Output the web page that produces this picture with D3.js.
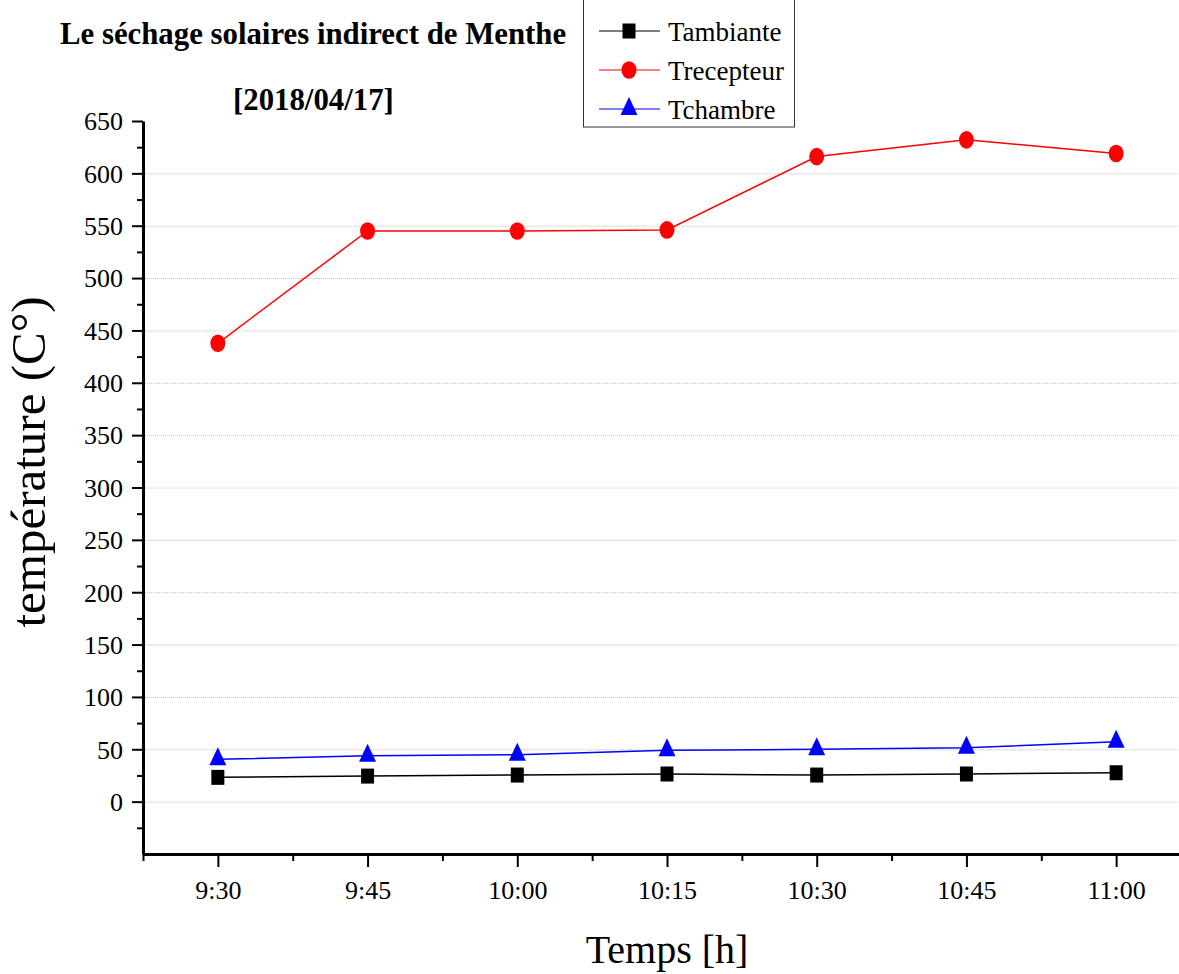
<!DOCTYPE html>
<html>
<head>
<meta charset="utf-8">
<script src="https://cdn.jsdelivr.net/npm/d3@7"></script>
<style>
  body { margin: 0; background: #fff; }
  svg text { font-family: "Liberation Serif", "Times New Roman", serif; fill: #000; }
</style>
</head>
<body>
<div id="chart"></div>
<script>

// values
var times = ["9:30", "9:45", "10:00", "10:15", "10:30", "10:45", "11:00"];
var tambiante = [23.2, 24.4, 25.4, 26.4, 25.4, 26.4, 27.6];
var trecepteur = [437.7, 545, 545, 546, 616, 632, 619];
var tchambre = [40.4, 43.8, 44.8, 49, 50, 51.5, 57.2];
var yTicks = [0, 50, 100, 150, 200, 250, 300, 350, 400, 450, 500, 550, 600, 650];

var series = [
    {name: "Tambiante", values: tambiante, color: "#000000", marker: "square"},
    {name: "Trecepteur", values: trecepteur, color: "#ff0000", marker: "circle"},
    {name: "Tchambre", values: tchambre, color: "#0000ff", marker: "triangle"}
];

var fullWidth = 1179, fullHeight = 974;

var svg = d3.select("#chart").append("svg")
        .attr("width", fullWidth)
        .attr("height", fullHeight);

// x uses the index of each time, half a step of padding on both ends
var x = d3.scaleLinear()
        .domain([-0.5, times.length - 0.5])
        .range([143, 1191]);

var y = d3.scaleLinear()
        .domain([-50, 650])
        .range([854, 121]);

// dotted grid
svg.append("g")
        .attr("class", "grid")
        .selectAll("line")
        .data(yTicks.filter(function (d) { return d < 650; }))
        .enter().append("line")
        .attr("x1", 145)
        .attr("x2", fullWidth)
        .attr("y1", function (d) { return y(d) + 0.5; })
        .attr("y2", function (d) { return y(d) + 0.5; })
        .attr("stroke", "#c4c4c4")
        .attr("stroke-width", 1)
        .attr("stroke-dasharray", "1,1");

// minor ticks first so the major ones sit on top
var yMinor = d3.range(-25, 650, 50);
var xMinor = d3.range(-0.5, times.length, 1);

var yAxisMinor = d3.axisLeft(y).tickValues(yMinor).tickSize(6).tickFormat("");
var xAxisMinor = d3.axisBottom(x).tickValues(xMinor).tickSize(7).tickFormat("");

var yAxis = d3.axisLeft(y)
        .tickValues(yTicks)
        .tickSize(11)
        .tickPadding(9)
        .tickSizeOuter(0);

var xAxis = d3.axisBottom(x)
        .tickValues(d3.range(times.length))
        .tickSize(13)
        .tickPadding(14)
        .tickSizeOuter(0)
        .tickFormat(function (i) { return times[i]; });

svg.append("g")
        .attr("class", "y minor")
        .attr("transform", "translate(143,0)")
        .call(yAxisMinor);

svg.append("g")
        .attr("class", "x minor")
        .attr("transform", "translate(0,854)")
        .call(xAxisMinor);

svg.append("g")
        .attr("class", "y axis")
        .attr("transform", "translate(143,0)")
        .call(yAxis);

svg.append("g")
        .attr("class", "x axis")
        .attr("transform", "translate(0,854)")
        .call(xAxis);

svg.selectAll(".minor path").remove();
svg.selectAll(".axis path").attr("stroke-width", 3).attr("stroke", "#000");
svg.selectAll(".axis line, .minor line").attr("stroke-width", 2).attr("stroke", "#000");
svg.selectAll(".axis text")
        .style("font-size", "26px")
        .style("font-family", "'Liberation Serif', 'Times New Roman', serif")
        .attr("fill", "#000");
svg.selectAll(".y.axis text").attr("dy", "0.34em");

// markers, a little taller than wide like the picture
function drawMarker(sel, type, color) {
    if (type == "square") {
        sel.append("rect")
            .attr("x", -6.5).attr("y", -7.5)
            .attr("width", 13).attr("height", 15)
            .attr("fill", color);
    } else if (type == "circle") {
        sel.append("ellipse")
            .attr("rx", 7.5).attr("ry", 8.8)
            .attr("fill", color);
    } else {
        sel.append("path")
            .attr("d", "M0,-12L8.5,6L-8.5,6Z")
            .attr("fill", color);
    }
}

var line = d3.line()
        .x(function (d, i) { return x(i); })
        .y(function (d) { return y(d); });

series.forEach(function (s) {
    var g = svg.append("g").attr("class", "series");

    g.append("path")
        .datum(s.values)
        .attr("d", line)
        .attr("fill", "none")
        .attr("stroke", s.color)
        .attr("stroke-width", 1.5);

    g.selectAll("g.pt")
        .data(s.values)
        .enter().append("g")
        .attr("class", "pt")
        .attr("transform", function (d, i) { return "translate(" + x(i) + "," + y(d) + ")"; })
        .each(function () { drawMarker(d3.select(this), s.marker, s.color); });
});

// titles
svg.append("text")
        .attr("x", 60)
        .attr("y", 44)
        .style("font-size", "30.8px")
        .style("font-weight", "bold")
        .text("Le séchage solaires indirect de Menthe");

svg.append("text")
        .attr("x", 233)
        .attr("y", 110)
        .style("font-size", "30.8px")
        .style("font-weight", "bold")
        .text("[2018/04/17]");

svg.append("text")
        .attr("transform", "translate(45,462) rotate(-90)")
        .attr("text-anchor", "middle")
        .style("font-size", "49px")
        .text("température (C°)");

svg.append("text")
        .attr("x", 667)
        .attr("y", 963)
        .attr("text-anchor", "middle")
        .style("font-size", "40px")
        .text("Temps [h]");

// legend
var legend = svg.append("g").attr("class", "legend");

legend.append("rect")
        .attr("x", 583.5)
        .attr("y", -2)
        .attr("width", 211)
        .attr("height", 129)
        .attr("fill", "#fff")
        .attr("stroke", "#333")
        .attr("stroke-width", 1);

var rowY = [31, 70, 109];

series.forEach(function (s, i) {
    var row = legend.append("g")
        .attr("transform", "translate(0," + rowY[i] + ")");

    row.append("line")
        .attr("x1", 599).attr("x2", 660)
        .attr("stroke", s.color)
        .attr("stroke-width", 1.2);

    var m = row.append("g").attr("transform", "translate(629,0)");
    drawMarker(m, s.marker, s.color);

    row.append("text")
        .attr("x", 668)
        .attr("y", 10)
        .style("font-size", "27px")
        .text(s.name);
});

</script>
</body>
</html>
